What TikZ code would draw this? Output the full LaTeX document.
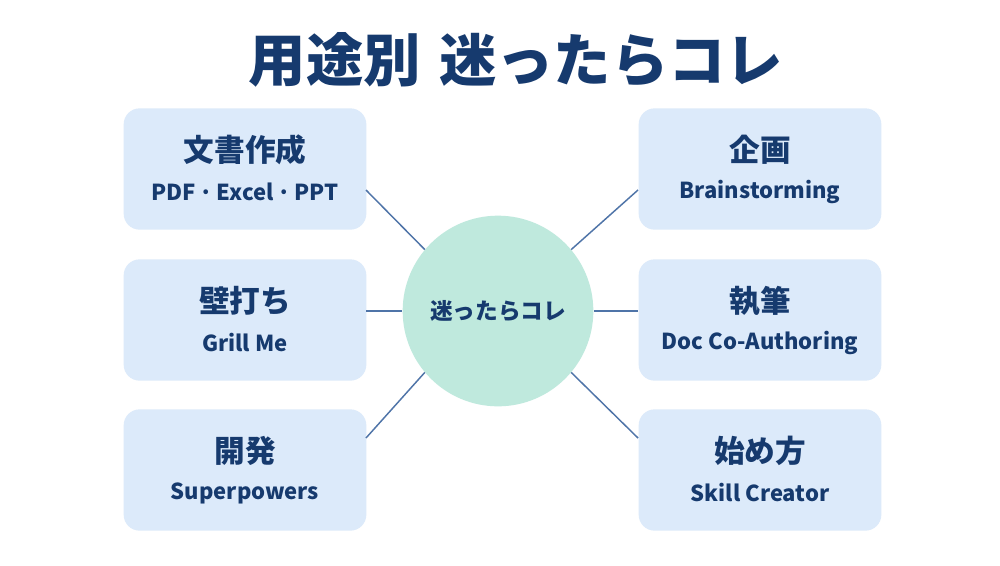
\documentclass[tikz,border=0pt]{standalone}
\usepackage{fontspec}
\setmainfont{Noto Sans CJK JP}
\definecolor{navy}{HTML}{163A6E}
\definecolor{boxfill}{HTML}{DCEAFA}
\definecolor{circfill}{HTML}{BFE9DD}
\definecolor{lnc}{HTML}{4F74A8}
\begin{document}
\begin{tikzpicture}[x=0.75pt,y=-0.75pt,
  box/.style={fill=boxfill,rounded corners=12pt,minimum width=182pt,minimum height=91pt,draw=none},
  conn/.style={draw=lnc,line width=1.1pt},
  t1/.style={text=navy,font=\bfseries\fontsize{23}{26}\selectfont},
  t2/.style={text=navy,font=\bfseries\fontsize{16.5}{19}\selectfont}]
\useasboundingbox (0,0) rectangle (1000,565);
\fill[white] (0,0) rectangle (1000,565);
\node[text=navy,font=\bfseries\fontsize{43}{46}\selectfont] (title) at (516,60) {用途別\hspace{14pt}迷ったらコレ};
\node[circle,fill=circfill,minimum size=143pt,inner sep=0pt,text=navy,font=\bfseries\fontsize{17}{20}\selectfont] (c) at (498,311) {迷ったらコレ};
\newcommand\bx[5]{\node[box] (#1) at (#2,#3) {};
  \node[t1] (#1t) at (#2,#3-19) {#4};
  \node[t2] (#1s) at (#2,#3+23) {#5};}
\bx{a}{245}{169}{文書作成}{PDF\,·\,Excel\,·\,PPT}
\bx{b}{245}{320}{壁打ち}{Grill Me}
\bx{d}{245}{470}{開発}{Superpowers}
\bx{e}{760}{169}{企画}{Brainstorming}
\bx{f}{760}{320}{執筆}{Doc Co-Authoring}
\bx{g}{760}{470}{始め方}{Skill Creator}
\coordinate (a1) at (366,190); \coordinate (b1) at (366,311); \coordinate (d1) at (366,438);
\coordinate (e1) at (638,190); \coordinate (f1) at (638,311); \coordinate (g1) at (638,438);
\draw[conn] (a1) -- (c.140);
\draw[conn] (b1) -- (c.west);
\draw[conn] (d1) -- (c.220);
\draw[conn] (e1) -- (c.40);
\draw[conn] (f1) -- (c.east);
\draw[conn] (g1) -- (c.-40);
\end{tikzpicture}
\end{document}
